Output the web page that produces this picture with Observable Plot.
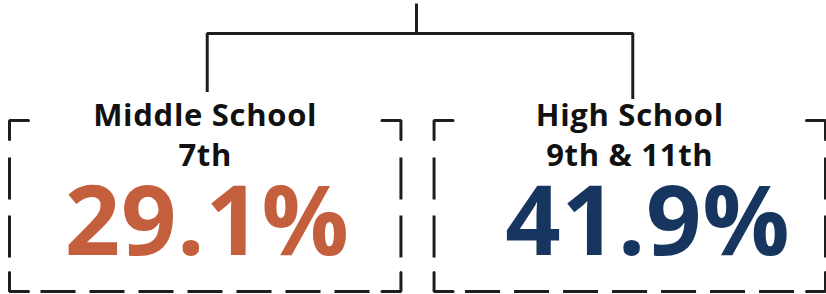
<!DOCTYPE html>
<html><head><meta charset="utf-8">
<script src="https://cdn.jsdelivr.net/npm/d3@7"></script>
<script src="https://cdn.jsdelivr.net/npm/@observablehq/plot@0.6"></script>
<style>html,body{margin:0;padding:0;background:#fff;} svg{display:block} svg text{letter-spacing:0.7px}</style>
</head><body><div id="chart"></div>
<script>
// ---- data ----
const categories = ["Middle School", "High School"];
const gradeLabels = ["7th", "9th & 11th"];
const percentages = [29.1, 41.9];
const valueColors = ["#C45F3E", "#17365F"];

// ---- layout ----
const W = 826, H = 294;
const yStemTop = 3, yBracket = 33, yDrop = [90, 97];
const yBoxTop = 120, yBoxBottom = 291, arm = 19;
const yHead = 125, yGrade = 165, yValue = 254;
const valueNudge = [2, 18];
const ink = "#1e1e1e";
const font = "'Open Sans', Lato, sans-serif";

const band = Plot.scale({x: {type: "band", domain: categories, range: [9, 825], paddingInner: 0.078, paddingOuter: 0}});
const bw = band.bandwidth;
const boxes = categories.map((c, i) => {
  const x0 = band.apply(c);
  return {cat: c, grade: gradeLabels[i], value: percentages[i], color: valueColors[i], x0, x1: x0 + bw, cx: x0 + bw / 2, vx: x0 + bw / 2 + valueNudge[i]};
});

const bracket = [
  {x: boxes[0].cx + 2, y: yDrop[0]}, {x: boxes[0].cx + 2, y: yBracket},
  {x: boxes[1].cx + 3, y: yBracket}, {x: boxes[1].cx + 3, y: yDrop[1]}
];
const stemX = 416;

const corners = boxes.flatMap((b, i) => [
  [[b.x0 + arm, yBoxTop], [b.x0, yBoxTop], [b.x0, yBoxTop + arm]],
  [[b.x1 - arm, yBoxTop], [b.x1, yBoxTop], [b.x1, yBoxTop + arm]],
  [[b.x0, yBoxBottom - arm], [b.x0, yBoxBottom], [b.x0 + arm, yBoxBottom]],
  [[b.x1, yBoxBottom - arm], [b.x1, yBoxBottom], [b.x1 - arm, yBoxBottom]]
].flatMap((pts, k) => pts.map(([x, y]) => ({x, y, id: i * 4 + k}))));

const sides = boxes.flatMap(b => [
  {x1: b.x0, x2: b.x0, y1: yBoxTop + 37, y2: yBoxBottom - 34},
  {x1: b.x1, x2: b.x1, y1: yBoxTop + 37, y2: yBoxBottom - 34}
]);
const bottoms = boxes.map(b => ({x1: b.x0 + 31, x2: b.x1 - 31, y1: yBoxBottom, y2: yBoxBottom}));

const chart = Plot.plot({
  width: W, height: H, margin: 0,
  x: {domain: [0, W], range: [0, W], axis: null},
  y: {domain: [0, H], range: [0, H], axis: null},
  style: {background: "#fff"},
  marks: [
    Plot.link([{x1: stemX, x2: stemX, y1: yStemTop, y2: yBracket}], {x1: "x1", x2: "x2", y1: "y1", y2: "y2", stroke: ink, strokeWidth: 3}),
    Plot.line(bracket, {x: "x", y: "y", stroke: ink, strokeWidth: 3, strokeLinejoin: "miter", strokeLinecap: "square"}),
    Plot.line(corners, {x: "x", y: "y", z: "id", stroke: ink, strokeWidth: 3, strokeLinejoin: "miter"}),
    Plot.link(sides, {x1: "x1", x2: "x2", y1: "y1", y2: "y2", stroke: ink, strokeWidth: 3, strokeDasharray: "42,16"}),
    Plot.link(bottoms, {x1: "x1", x2: "x2", y1: "y1", y2: "y2", stroke: ink, strokeWidth: 3, strokeDasharray: "35,14"}),
    Plot.text(boxes, {x: "cx", y: () => yHead, text: "cat", fontSize: 31, fontWeight: 700, fill: "#111", fontFamily: font, lineAnchor: "bottom"}),
    Plot.text(boxes, {x: "cx", y: () => yGrade, text: "grade", fontSize: 31, fontWeight: 700, fill: "#111", fontFamily: font, lineAnchor: "bottom"}),
    Plot.text(boxes, {x: "vx", y: () => yValue, text: d => d.value.toFixed(1) + "%", fill: "color", fontSize: 97, fontWeight: 700, fontFamily: font, lineAnchor: "bottom"})
  ]
});
document.getElementById("chart").appendChild(chart);
</script>
</body></html>
